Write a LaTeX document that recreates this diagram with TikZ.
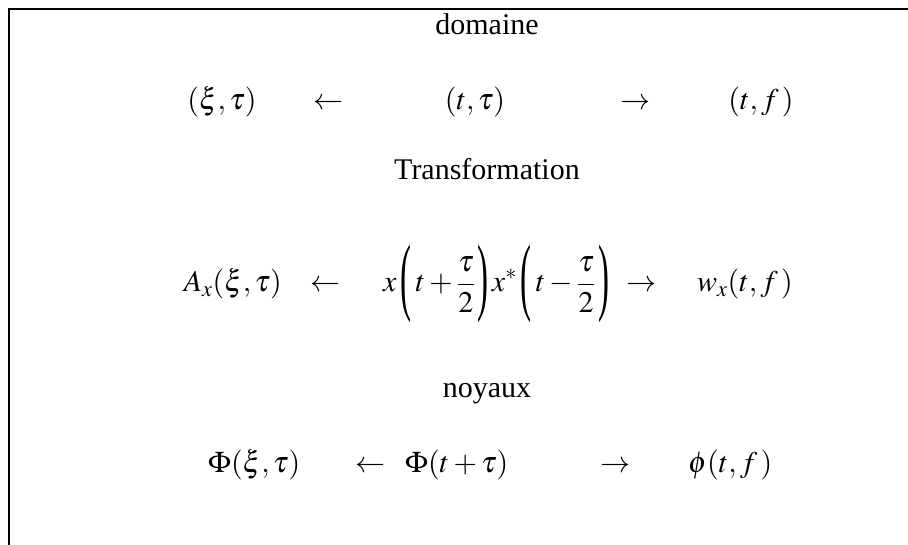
\documentclass[tikz,border=0pt]{standalone}
\usepackage{graphicx}
\usepackage{mathptmx}
\usepackage[no-math]{fontspec}
\setmainfont{Liberation Serif}
\newcommand\tallparen[1]{\mbox{\raisebox{-12.4pt}{\scalebox{1.1}[2.86]{#1}}}}
\newcommand\lpar{\kern4pt\tallparen{(}\kern4pt}
\newcommand\rpar{\kern3pt\tallparen{)}\kern3pt}
\newcommand\halffrac{\frac{\tau\rule[-4pt]{0pt}{4pt}}{\rule{0pt}{24pt}2}}
\begin{document}
\begin{tikzpicture}[x=1pt,y=-1pt,
  lab/.style={anchor=base, inner sep=0pt, font=\fontsize{30}{36}\selectfont},
  frame/.style={line width=2.7pt, line join=miter}]
\useasboundingbox (0,0) rectangle (908,545);
\draw[frame] (9,545) -- (9,9) -- (908,9);
\node[lab] (dom) at (487,35) {domaine};
\node[lab] (r1a) at (222,110) {$(\xi,\tau)$};
\node[lab] (r1l) at (328,110) {$\leftarrow$};
\node[lab] (r1b) at (475,110) {$(t,\tau)$};
\node[lab] (r1r) at (635,110) {$\rightarrow$};
\node[lab] (r1c) at (761,110) {$(t,f\,)$};
\node[lab] (tr) at (487,180) {Transformation};
\node[lab,anchor=base east] (r3a) at (282,292) {$A_x(\xi,\tau)$};
\node[lab] (r3l) at (325,292) {$\leftarrow$};
\node[lab,anchor=base west] (r3b) at (383,292) {$\displaystyle x\lpar t+\halffrac\rpar x^{*}\lpar t-\halffrac\rpar$};
\node[lab] (r3r) at (641,292) {$\rightarrow$};
\node[lab,anchor=base west] (r3c) at (697,292) {$w_x(t,f\,)$};
\node[lab] (noy) at (487,397) {noyaux};
\node[lab,anchor=base west] (r5a) at (208,472) {$\Phi(\xi,\tau)$};
\node[lab,anchor=base west] (r5l) at (355,472) {$\leftarrow$};
\node[lab,anchor=base west] (r5b) at (405,472) {$\Phi(t+\tau)$};
\node[lab] (r5r) at (615,472) {$\rightarrow$};
\node[lab,anchor=base west] (r5c) at (688,472) {$\phi(t,f\,)$};
\end{tikzpicture}
\end{document}
